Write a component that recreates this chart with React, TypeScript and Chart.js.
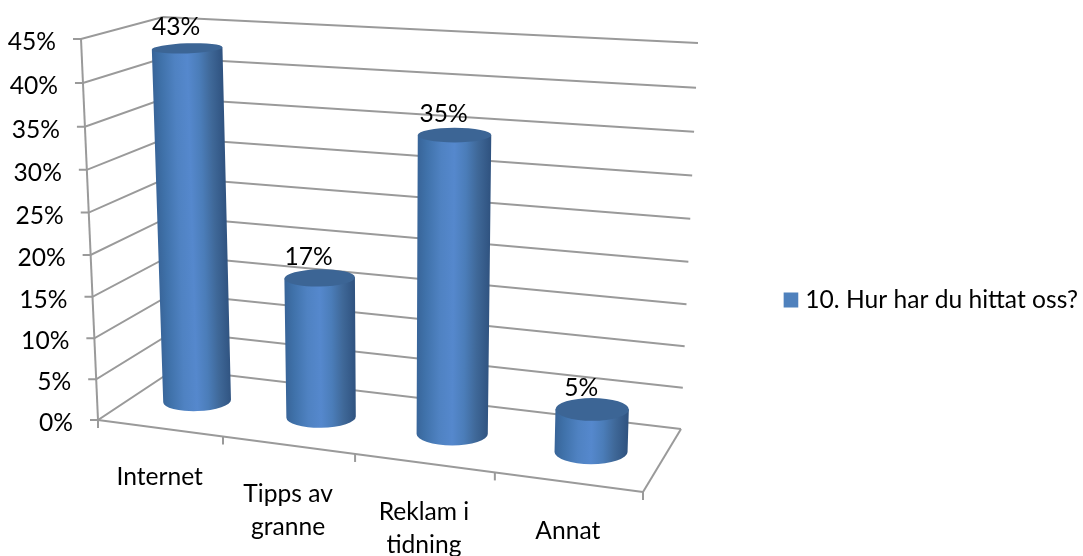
import React, { useEffect, useRef } from "react";
import { Chart, registerables } from "chart.js";

Chart.register(...registerables);

const categories: (string | string[])[] = ["Internet", ["Tipps av", "granne"], ["Reklam i", "tidning"], "Annat"];
const seriesName = "10. Hur har du hittat oss?";
const seriesValues = [43, 17, 35, 5];
const axisMax = 45;
const axisStep = 5;
const FONT = "Lato";
const FONT_SIZE = 24.6;

type P = [number, number];
const mix = (a: P, b: P, t: number): P => [a[0] + (b[0] - a[0]) * t, a[1] + (b[1] - a[1]) * t];

// perspective foreshortening along each box edge
const persp = (t: number, k: number) => t / (1 + k * (1 - t));
const uP = (u: number) => persp(u, 0.12);
const vP = (v: number) => persp(v, 0.046);

// corners of the projected 3D box
const FLT: P = [81, 39], FLB: P = [98, 420], BLT: P = [163, 17], BLB: P = [175, 369];
const BRT: P = [698, 43], BRB: P = [681, 429], FRB: P = [643, 492];
// plane through the cylinder axes
const CBL: P = [137.6, 393.3], CBR: P = [663.6, 461.3], CTL: P = [124, 27.8], CTR: P = [677.8, 57.8];

const box3d = {
  id: "box3d",
  beforeDatasetsDraw(chart: any) {
    const { ctx, scales, chartArea } = chart;
    const xs = scales.x, ys = scales.y;
    const tOf = (value: number) => vP((ys.bottom - ys.getPixelForValue(value)) / (ys.bottom - ys.top));
    ctx.save();
    ctx.strokeStyle = "#9a9a9a";
    ctx.lineWidth = 2;
    ctx.lineCap = "butt";
    const seg = (a: P, b: P) => { ctx.beginPath(); ctx.moveTo(a[0], a[1]); ctx.lineTo(b[0], b[1]); ctx.stroke(); };

    // value gridlines and ticks on side wall and back wall
    ctx.fillStyle = "#000";
    ctx.font = `${FONT_SIZE}px ${FONT}`;
    ctx.textBaseline = "middle";
    ctx.textAlign = "right";
    for (const tick of ys.ticks) {
      const t = tOf(tick.value);
      const f = mix(FLB, FLT, t), b = mix(BLB, BLT, t), r = mix(BRB, BRT, t);
      ctx.beginPath();
      ctx.moveTo(f[0] - 8, f[1]);
      ctx.lineTo(f[0], f[1]);
      ctx.lineTo(b[0], b[1]);
      ctx.lineTo(r[0], r[1]);
      ctx.stroke();
      ctx.fillText(`${tick.value}%`, f[0] - 25, f[1] + 3);
    }
    seg(FLT, FLB);
    seg(FLB, FRB);
    seg(FRB, BRB);

    // category ticks and labels along the front edge of the floor
    const n = categories.length;
    for (let i = 0; i <= n; i++) {
      const p = mix(FLB, FRB, uP(i / n));
      seg(p, [p[0], p[1] + 8]);
    }
    ctx.textAlign = "center";
    categories.forEach((label, i) => {
      const u = (xs.getPixelForValue(i) - chartArea.left) / chartArea.width;
      const p = mix(FLB, FRB, uP(u));
      const lines = Array.isArray(label) ? label : [label];
      lines.forEach((line, j) => ctx.fillText(line, p[0], p[1] + 49 + j * 33));
    });

    // cylinders, from the chart's own bar elements
    const bars = chart.getDatasetMeta(0).data;
    const tops: { x: number; y: number; text: string }[] = [];
    bars.forEach((bar: any, i: number) => {
      const u = uP((bar.x - chartArea.left) / chartArea.width);
      const t = vP((bar.base - bar.y) / (ys.bottom - ys.top));
      const lo = mix(CBL, CBR, u), hi = mix(CTL, CTR, u);
      const bot = lo;
      const top = mix(lo, hi, t);
      const rb = 33.5 + 3.5 * u, rt = rb + 1.5 * t;
      const ryb = 9.8 + 2.8 * u, ryt = 9.5 + 2.8 * u - 5 * t;
      const rot = -0.07 * Math.max(0, 0.6 - u);
      const mx = (bot[0] + top[0]) / 2, my = (bot[1] + top[1]) / 2;
      const axisA = Math.atan2(top[0] - bot[0], bot[1] - top[1]);
      const cx = Math.cos(axisA), sy = Math.sin(axisA);
      const g = ctx.createLinearGradient(mx - rt * cx, my - rt * sy, mx + rt * cx, my + rt * sy);
      g.addColorStop(0, "#386498");
      g.addColorStop(0.12, "#3f71a9");
      g.addColorStop(0.32, "#4f82c2");
      g.addColorStop(0.5, "#5588cd");
      g.addColorStop(0.66, "#4b7db9");
      g.addColorStop(0.82, "#3f6898");
      g.addColorStop(1, "#2f527f");
      ctx.beginPath();
      ctx.moveTo(top[0] - rt * Math.cos(rot), top[1] - rt * Math.sin(rot));
      ctx.lineTo(bot[0] - rb * Math.cos(rot), bot[1] - rb * Math.sin(rot));
      ctx.ellipse(bot[0], bot[1], rb, ryb, rot, Math.PI, 0, true);
      ctx.lineTo(top[0] + rt * Math.cos(rot), top[1] + rt * Math.sin(rot));
      ctx.closePath();
      ctx.fillStyle = g;
      ctx.fill();
      ctx.beginPath();
      ctx.ellipse(top[0], top[1], rt, ryt, rot, 0, Math.PI * 2);
      ctx.fillStyle = "#3c6595";
      ctx.fill();
      tops.push({ x: top[0] - 11, y: top[1] - 21, text: `${seriesValues[i]}%` });
    });

    ctx.fillStyle = "#000";
    ctx.textAlign = "center";
    for (const l of tops) ctx.fillText(l.text, l.x, l.y);
    ctx.restore();
    return false;
  },
};

export default function App() {
  const ref = useRef<HTMLCanvasElement | null>(null);
  useEffect(() => {
    document.body.style.margin = "0";
    const chart = new Chart(ref.current as HTMLCanvasElement, {
      type: "bar",
      data: {
        labels: categories as any,
        datasets: [{ label: seriesName, data: seriesValues, backgroundColor: "#4f81bd", borderWidth: 0 }],
      },
      options: {
        responsive: false,
        animation: false,
        layout: { padding: { top: 44, bottom: 0, left: 80, right: -5 } },
        scales: {
          x: { display: false, offset: true },
          y: { display: false, min: 0, max: axisMax, ticks: { stepSize: axisStep } },
        },
        plugins: {
          tooltip: { enabled: false },
          legend: {
            display: true,
            position: "right",
            labels: {
              usePointStyle: true,
              pointStyle: "rect",
              boxWidth: 4.5,
              boxHeight: 15,
              color: "#000",
              font: { family: FONT, size: FONT_SIZE },
              padding: 5,
            },
          },
        },
      },
      plugins: [box3d as any],
    });
    return () => chart.destroy();
  }, []);
  return <canvas ref={ref} width={1083} height={556} style={{ display: "block" }} />;
}
